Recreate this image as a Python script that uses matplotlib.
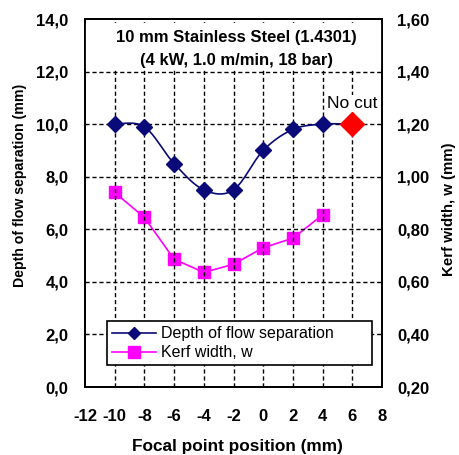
import numpy as np
import matplotlib
matplotlib.use("Agg")
import matplotlib.pyplot as plt
import matplotlib.transforms as mtransforms
from matplotlib.ticker import FuncFormatter, FixedLocator
from matplotlib.lines import Line2D
from matplotlib.patches import Rectangle

plt.rcParams['font.family'] = ['Liberation Sans', 'DejaVu Sans']

# Data
focal_depth = [-10, -8, -6, -4, -2, 0, 2, 4, 6]
depth = [10.0, 9.9, 8.5, 7.5, 7.5, 9.0, 9.8, 10.0, 10.0]
focal_kerf = [-10, -8, -6, -4, -2, 0, 2, 4]
kerf = [0.94, 0.845, 0.686, 0.636, 0.667, 0.73, 0.766, 0.855]
nocut_x = [6]
nocut_y = [10.0]

title_lines = ["10 mm Stainless Steel (1.4301)", "(4 kW, 1.0 m/min, 18 bar)"]
xlabel = "Focal point position (mm)"
ylabel_left = "Depth of flow separation (mm)"
ylabel_right = "Kerf width, w (mm)"
legend_labels = ["Depth of flow separation", "Kerf width, w"]

navy = '#0a0a78'
magenta = '#ff00ff'


def smooth(xs, ys, n=20):
    # Bezier smoothing for drawing the line only
    xs = np.asarray(xs, float); ys = np.asarray(ys, float)
    P = np.column_stack([xs, ys])
    P = np.vstack([P[0], P, P[-1]])
    out = []
    for i in range(1, len(P) - 2):
        p0, p1, p2, p3 = P[i - 1], P[i], P[i + 1], P[i + 2]
        t = np.linspace(0, 1, n)[:, None]
        c1 = p1 + (p2 - p0) / 6.0
        c2 = p2 - (p3 - p1) / 6.0
        seg = ((1 - t) ** 3) * p1 + 3 * ((1 - t) ** 2) * t * c1 + 3 * (1 - t) * t ** 2 * c2 + t ** 3 * p2
        out.append(seg if i == 1 else seg[1:])
    s = np.vstack(out)
    return s[:, 0], s[:, 1]


W, H = 459, 455
fig = plt.figure(figsize=(W / 100, H / 100), dpi=100)
ax = fig.add_axes([85 / W, (H - 387) / H, 297 / W, 368 / H])
ax2 = ax.twinx()

ax.set_xlim(-12, 8)
ax.set_ylim(0, 14)
ax2.set_ylim(0.2, 1.6)

ax.xaxis.set_major_locator(FixedLocator(np.arange(-12, 9, 2)))
ax.yaxis.set_major_locator(FixedLocator(np.arange(0, 15, 2)))
ax2.yaxis.set_major_locator(FixedLocator(np.arange(0.2, 1.61, 0.2)))
ax.yaxis.set_major_formatter(FuncFormatter(lambda v, p: f"{v:.1f}".replace('.', ',')))
ax2.yaxis.set_major_formatter(FuncFormatter(lambda v, p: f"{v:.2f}".replace('.', ',')))
ax.xaxis.set_major_formatter(FuncFormatter(lambda v, p: f"{int(round(v))}"))

ax.tick_params(axis='y', length=0, pad=12, labelsize=12)
ax.tick_params(axis='x', length=0, pad=16, labelsize=12)
ax2.tick_params(axis='y', length=0, pad=10.8, labelsize=12)
for lab in ax.get_xticklabels() + ax.get_yticklabels() + ax2.get_yticklabels():
    lab.set_fontweight('bold')

# grid
for gx in np.arange(-10, 7, 2):
    ax.axvline(gx, color='black', lw=1.0, ls=(0, (3, 2)), zorder=0.5)
for gy in np.arange(2, 13, 2):
    ax.axhline(gy, color='black', lw=1.0, ls=(0, (3, 2)), zorder=0.5)

# white title area (covers grid lines behind the title)
ax.add_patch(Rectangle((-12, 12.08), 20, 13.83 - 12.08, facecolor='white',
                       edgecolor='none', zorder=1))

for sp in list(ax.spines.values()) + list(ax2.spines.values()):
    sp.set_linewidth(1.3)
    sp.set_color('black')

# depth series
sx, sy = smooth(focal_depth, depth)
ax.plot(sx, sy, color=navy, lw=1.2, zorder=3)
ax.plot(focal_depth[:-1], depth[:-1], ls='none', marker='D', ms=8, color=navy, zorder=4)
ax.plot(nocut_x, nocut_y, ls='none', marker='D', ms=12, color='#ff0000', zorder=5)
ax.text(6, 10.5, "No cut", ha='center', va='bottom', fontsize=12.5,
        bbox=dict(facecolor='white', edgecolor='none', pad=0.5), zorder=6)

# kerf series
ax2.plot(focal_kerf, kerf, color=magenta, lw=1.2, marker='s', ms=9, zorder=3)

ax.set_zorder(ax2.get_zorder() + 1)
ax.patch.set_visible(False)

# title
blend = mtransforms.blended_transform_factory(ax.transAxes, ax.transData)
tx = (236 - 85) / 297
ax.text(tx, 13.28, title_lines[0], transform=blend,
        ha='center', va='center', fontsize=12, fontweight='bold', zorder=6)
ax.text(tx, 12.44, title_lines[1], transform=blend,
        ha='center', va='center', fontsize=12, fontweight='bold', zorder=6)

ax.set_xlabel(xlabel, fontsize=12.4, fontweight='bold')
ax.xaxis.label.set_va('center')
ax.xaxis.set_label_coords((237.5 - 85) / 297, (387 - 446) / 368)
ax.set_ylabel(ylabel_left, fontsize=10.2, fontweight='bold')
ax.yaxis.label.set_va('center')
ax.yaxis.set_label_coords((20 - 85) / 297, (387 - 185) / 368)
ax2.set_ylabel(ylabel_right, fontsize=10.8, fontweight='bold', rotation=90)
ax2.yaxis.label.set_va('center')
ax2.yaxis.set_label_coords((449 - 85) / 297, (387 - 209) / 368)

# legend
h1 = Line2D([], [], color=navy, lw=1.2, marker='D', ms=6)
h2 = Line2D([], [], color=magenta, lw=1.2, marker='s', ms=9)
leg = ax.legend([h1, h2], legend_labels, loc='lower left',
                bbox_to_anchor=(0.074, 0.06, 0.892, 0.122), mode='expand',
                fontsize=11.5, frameon=True, fancybox=False, framealpha=1,
                edgecolor='black', handlelength=2.8, handletextpad=0.3,
                borderaxespad=0, labelspacing=0.25, borderpad=0.3)
leg.get_frame().set_linewidth(1.2)
leg.set_zorder(10)

fig.savefig("out.png", dpi=100)
